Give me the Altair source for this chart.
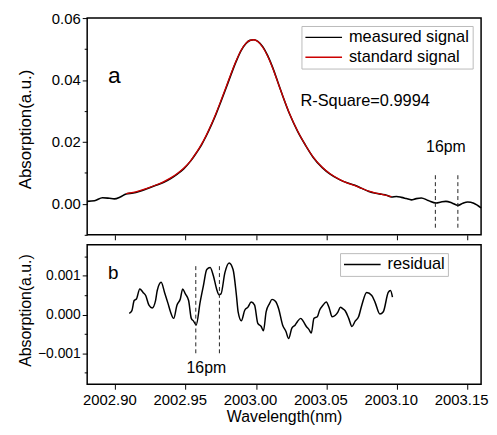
import altair as alt
import pandas as pd

# ---------------- data ----------------
meas_wl = [2002.8800, 2002.8852, 2002.8909, 2002.8958, 2002.8993, 2002.9035, 2002.9077,
           2002.9127, 2002.9169, 2002.9225, 2002.9289, 2002.9345, 2002.9394, 2002.9443,
           2002.9486, 2002.9535, 2002.9577, 2002.9612, 2002.9647, 2002.9683, 2002.9718,
           2002.9753, 2002.9788, 2002.9823, 2002.9859, 2002.9894, 2002.9929, 2002.9957,
           2002.9985, 2003.0013, 2003.0049, 2003.0084, 2003.0119, 2003.0154, 2003.0189,
           2003.0239, 2003.0295, 2003.0351, 2003.0407, 2003.0471, 2003.0527, 2003.0590,
           2003.0647, 2003.0703, 2003.0752, 2003.0802, 2003.0851, 2003.0893, 2003.0928,
           2003.0963, 2003.0999, 2003.1034, 2003.1069, 2003.1104, 2003.1139, 2003.1175,
           2003.1224, 2003.1280, 2003.1315, 2003.1350, 2003.1393, 2003.1435, 2003.1470,
           2003.1505, 2003.1548, 2003.1600]
meas_abs = [0.0008, 0.0010, 0.0020, 0.0018, 0.0016, 0.0022, 0.0032,
            0.0035, 0.0040, 0.0049, 0.0060, 0.0070, 0.0082, 0.0097,
            0.0113, 0.0138, 0.0165, 0.0190, 0.0220, 0.0255, 0.0292,
            0.0333, 0.0375, 0.0418, 0.0460, 0.0495, 0.0518, 0.0528,
            0.0530, 0.0525, 0.0507, 0.0478, 0.0440, 0.0395, 0.0350,
            0.0290, 0.0235, 0.0190, 0.0150, 0.0117, 0.0096, 0.0079,
            0.0068, 0.0060, 0.0050, 0.0040, 0.0034, 0.0031, 0.0028,
            0.0022, 0.0024, 0.0021, 0.0017, 0.0013, 0.0017, 0.0019,
            0.0011, 0.0003, 0.0006, 0.0008, 0.0003, -0.0005, 0.0002,
            0.0006, 0.0002, -0.0013]

std_wl = [2002.9077, 2002.9127, 2002.9169, 2002.9225, 2002.9289, 2002.9345, 2002.9394,
          2002.9443, 2002.9486, 2002.9535, 2002.9577, 2002.9612, 2002.9647, 2002.9683,
          2002.9718, 2002.9753, 2002.9788, 2002.9823, 2002.9859, 2002.9894, 2002.9929,
          2002.9957, 2002.9985, 2003.0013, 2003.0049, 2003.0084, 2003.0119, 2003.0154,
          2003.0189, 2003.0239, 2003.0295, 2003.0351, 2003.0407, 2003.0471, 2003.0527,
          2003.0590, 2003.0647, 2003.0703, 2003.0752, 2003.0802, 2003.0851, 2003.0893,
          2003.0928, 2003.0963]
std_abs = [0.0033, 0.0037, 0.0042, 0.0050, 0.0061, 0.0072, 0.0084,
           0.0099, 0.0115, 0.0139, 0.0166, 0.0192, 0.0222, 0.0257,
           0.0295, 0.0336, 0.0378, 0.0421, 0.0462, 0.0496, 0.0519,
           0.0528, 0.0530, 0.0524, 0.0505, 0.0476, 0.0438, 0.0394,
           0.0350, 0.0291, 0.0236, 0.0190, 0.0151, 0.0118, 0.0097,
           0.0080, 0.0068, 0.0059, 0.0050, 0.0041, 0.0035, 0.0031,
           0.0027, 0.0023]

res_wl = [2002.9099, 2002.9118, 2002.9134, 2002.9150, 2002.9174, 2002.9197, 2002.9216,
          2002.9239, 2002.9262, 2002.9286, 2002.9298, 2002.9326, 2002.9350, 2002.9375,
          2002.9392, 2002.9415, 2002.9438, 2002.9462, 2002.9479, 2002.9498, 2002.9521,
          2002.9540, 2002.9556, 2002.9575, 2002.9603, 2002.9626, 2002.9650, 2002.9674,
          2002.9697, 2002.9720, 2002.9737, 2002.9751, 2002.9779, 2002.9809, 2002.9837,
          2002.9861, 2002.9873, 2002.9896, 2002.9920, 2002.9943, 2002.9966, 2002.9990,
          2003.0013, 2003.0037, 2003.0053, 2003.0072, 2003.0096, 2003.0114, 2003.0138,
          2003.0161, 2003.0189, 2003.0213, 2003.0232, 2003.0255, 2003.0279, 2003.0295,
          2003.0318, 2003.0335, 2003.0358, 2003.0377, 2003.0393, 2003.0412, 2003.0436,
          2003.0452, 2003.0476, 2003.0499, 2003.0522, 2003.0541, 2003.0564, 2003.0583,
          2003.0600, 2003.0616, 2003.0635, 2003.0659, 2003.0682, 2003.0705, 2003.0729,
          2003.0752, 2003.0787, 2003.0823, 2003.0846, 2003.0881, 2003.0905, 2003.0940,
          2003.0956, 2003.0970]
res_abs = [0.00003, 0.00010, 0.00036, 0.00040, 0.00066, 0.00057, 0.00049,
           0.00024, 0.00017, 0.00036, 0.00062, 0.00083, 0.00057, 0.00028,
           0.00007, -0.00010, 0.00024, 0.00040, 0.00066, 0.00053, 0.00036,
           -0.00010, -0.00017, -0.00027, 0.00032, 0.00074, 0.00116, 0.00121,
           0.00100, 0.00066, 0.00051, 0.00053, 0.00108, 0.00133, 0.00116,
           0.00049, 0.00007, -0.00016, 0.00011, 0.00019, 0.00032, 0.00024,
           -0.00023, -0.00031, -0.00042, 0.00007, 0.00028, 0.00039, 0.00034,
           0.00015, -0.00027, -0.00044, -0.00062, -0.00035, -0.00027, -0.00018,
           -0.00010, -0.00017, -0.00031, -0.00039, -0.00048, -0.00010, -0.00006,
           0.00011, 0.00024, 0.00032, 0.00015, -0.00006, -0.00002, 0.00007,
           0.00019, 0.00015, 0.00009, -0.00010, -0.00031, -0.00017, -0.00006,
           0.00024, 0.00057, 0.00049, 0.00032, 0.00001, 0.00007, 0.00057,
           0.00062, 0.00045]

top_dash_wl = [2003.1275, 2003.1435]
top_dash_y = [-0.0077, 0.0102]
bot_dash_wl = [2002.9572, 2002.9740]
bot_dash_y = [-0.0010, 0.00126]

series_top = ["measured signal", "standard signal"]
colors_top = ["#000000", "#cc0000"]
series_bot = ["residual"]

x_ticks = [2002.900, 2002.925, 2002.950, 2002.975, 2003.000, 2003.025,
           2003.050, 2003.075, 2003.100, 2003.125, 2003.150]
y_top_major = [0.00, 0.02, 0.04, 0.06]
y_top_minor = [-0.01, 0.01, 0.03, 0.05]
y_bot_major = [-0.001, 0.0, 0.001]
y_bot_minor = [-0.0015, -0.0005, 0.0005, 0.0015]

FONT = "Liberation Sans"
W = 398

# ---------------- tables ----------------
meas_df = pd.DataFrame({"wl": meas_wl, "abs": meas_abs, "series": series_top[0]})
std_df = pd.DataFrame({"wl": std_wl, "abs": std_abs, "series": series_top[1]})
res_df = pd.DataFrame({"wl": res_wl, "abs": res_abs, "series": series_bot[0]})
top_dash = pd.DataFrame({"wl": top_dash_wl, "y1": top_dash_y[0], "y2": top_dash_y[1]})
bot_dash = pd.DataFrame({"wl": bot_dash_wl, "y1": bot_dash_y[0], "y2": bot_dash_y[1]})

x_scale = alt.Scale(domain=[2002.88, 2003.16], nice=False, zero=False)
y_top_scale = alt.Scale(domain=[-0.01, 0.06], nice=False, zero=False)
y_bot_scale = alt.Scale(domain=[-0.0018, 0.0018], nice=False, zero=False)

x_tick_size = {"condition": {"test": "round(datum.value*40) % 2 != 0", "value": 3}, "value": 5}

x_axis_top = alt.Axis(values=x_ticks, labels=False, title=None, domain=False, grid=False,
                      tickColor="black", tickWidth=1, tickSize=x_tick_size)
x_axis_bot = alt.Axis(values=x_ticks, title="Wavelength(nm)", domain=False, grid=False,
                      tickColor="black", tickWidth=1, tickSize=x_tick_size,
                      labelExpr="round(datum.value*40) % 2 == 0 ? format(datum.value, '.2f') : ''",
                      labelFontSize=15, labelPadding=3, labelOffset=-6, labelColor="black",
                      labelFont=FONT, titleFontSize=16, titlePadding=2, titleColor="black",
                      titleFont=FONT, titleFontWeight="normal", labelFlush=False, labelOverlap=False)
y_axis_top = alt.Axis(values=y_top_major, format=".2f", title="Absorption(a.u.)", orient="left",
                      domain=False, grid=False, tickColor="black", tickWidth=1, tickSize=5,
                      labelFontSize=15, labelPadding=2, labelColor="black", labelFont=FONT,
                      titleFontSize=17, titleColor="black", titleFont=FONT, titleFontWeight="normal",
                      titleAngle=270, titleAlign="center", titleBaseline="middle",
                      titleX=-62, titleY=112, labelOverlap=False, labelFlush=False)
y_axis_top_minor = alt.Axis(values=y_top_minor, labels=False, title=None, orient="left",
                            domain=False, grid=False, tickColor="black", tickWidth=1, tickSize=3)
y_axis_bot = alt.Axis(values=y_bot_major, format=".3f", title="Absorption(a.u.)", orient="left",
                      domain=False, grid=False, tickColor="black", tickWidth=1, tickSize=5,
                      labelFontSize=14, labelPadding=2, labelColor="black", labelFont=FONT,
                      titleFontSize=16, titleColor="black", titleFont=FONT, titleFontWeight="normal",
                      titleAngle=270, titleAlign="center", titleBaseline="middle",
                      titleX=-62, titleY=66, labelOverlap=False, labelFlush=False)
y_axis_bot_minor = alt.Axis(values=y_bot_minor, labels=False, title=None, orient="left",
                            domain=False, grid=False, tickColor="black", tickWidth=1, tickSize=3)

legend_common = dict(title=None, orient="none", symbolType="stroke", symbolSize=1369,
                     symbolStrokeWidth=1.5, labelFontSize=16.5, labelFont=FONT, labelColor="black",
                     strokeColor="#bbbbbb", fillColor="white", padding=3, rowPadding=3,
                     clipHeight=17, labelOffset=6)

color_top = alt.Color("series:N", scale=alt.Scale(domain=series_top, range=colors_top),
                      legend=alt.Legend(legendX=216.5, legendY=8, **legend_common))
color_bot = alt.Color("series:N", scale=alt.Scale(domain=series_bot, range=["#000000"]),
                      legend=alt.Legend(legendX=255.5, legendY=8.5, **legend_common))

# ---------------- top panel ----------------
meas_line = alt.Chart(meas_df).mark_line(strokeWidth=1.6, interpolate="monotone").encode(
    x=alt.X("wl:Q", scale=x_scale, axis=x_axis_top),
    y=alt.Y("abs:Q", scale=y_top_scale, axis=y_axis_top),
    color=color_top,
)
top_minor = alt.Chart(meas_df).mark_line(strokeOpacity=0).encode(
    x=alt.X("wl:Q", scale=x_scale),
    y=alt.Y("abs:Q", scale=y_top_scale, axis=y_axis_top_minor),
)
std_line = alt.Chart(std_df).mark_line(strokeWidth=1.3, interpolate="monotone").encode(
    x=alt.X("wl:Q", scale=x_scale),
    y=alt.Y("abs:Q", scale=y_top_scale, axis=None),
    color=color_top,
)
top_rules = alt.Chart(top_dash).mark_rule(strokeDash=[4, 3], color="#222222", strokeWidth=1).encode(
    x="wl:Q", y=alt.Y("y1:Q", axis=None), y2="y2:Q")

top_text = pd.DataFrame({
    "wl": [2002.8993, 2003.0316, 2003.1350],
    "y": [0.0413, 0.0333, 0.0182],
    "t": ["a", "R-Square=0.9994", "16pm"],
})
txt_a = alt.Chart(top_text.iloc[[0]]).mark_text(fontSize=23, font=FONT, color="black",
                                               align="center", baseline="middle").encode(
    x="wl:Q", y=alt.Y("y:Q", axis=None), text="t:N")
txt_r = alt.Chart(top_text.iloc[[1]]).mark_text(fontSize=16.5, font=FONT, color="black",
                                               align="left", baseline="middle").encode(
    x="wl:Q", y=alt.Y("y:Q", axis=None), text="t:N")
txt_p = alt.Chart(top_text.iloc[[2]]).mark_text(fontSize=16, font=FONT, color="black",
                                               align="center", baseline="middle").encode(
    x="wl:Q", y=alt.Y("y:Q", axis=None), text="t:N")

top = alt.layer(meas_line, top_minor, std_line, top_rules, txt_a, txt_r, txt_p).resolve_axis(
    y="independent").properties(width=W, height=219)

# ---------------- bottom panel ----------------
res_line = alt.Chart(res_df).mark_line(strokeWidth=1.5, interpolate="monotone").encode(
    x=alt.X("wl:Q", scale=x_scale, axis=x_axis_bot),
    y=alt.Y("abs:Q", scale=y_bot_scale, axis=y_axis_bot),
    color=color_bot,
)
bot_minor = alt.Chart(res_df).mark_line(strokeOpacity=0).encode(
    x=alt.X("wl:Q", scale=x_scale),
    y=alt.Y("abs:Q", scale=y_bot_scale, axis=y_axis_bot_minor),
)
bot_rules = alt.Chart(bot_dash).mark_rule(strokeDash=[4, 3], color="#222222", strokeWidth=1).encode(
    x="wl:Q", y=alt.Y("y1:Q", axis=None), y2="y2:Q")
bot_text = pd.DataFrame({"wl": [2002.8986, 2002.9647], "y": [0.00107, -0.00137], "t": ["b", "16pm"]})
txt_b = alt.Chart(bot_text.iloc[[0]]).mark_text(fontSize=19, font=FONT, color="black",
                                               align="center", baseline="middle").encode(
    x="wl:Q", y=alt.Y("y:Q", axis=None), text="t:N")
txt_p2 = alt.Chart(bot_text.iloc[[1]]).mark_text(fontSize=16, font=FONT, color="black",
                                                align="center", baseline="middle").encode(
    x="wl:Q", y=alt.Y("y:Q", axis=None), text="t:N")

bottom = alt.layer(res_line, bot_minor, bot_rules, txt_b, txt_p2).resolve_axis(
    y="independent").properties(width=W, height=141)

chart = alt.vconcat(top, bottom, spacing=10, bounds="flush").resolve_scale(
    color="independent").resolve_legend(color="independent").properties(
    padding={"left": 8, "top": 0, "right": 0, "bottom": 0}
).configure(font=FONT, background="white").configure_view(stroke="black", strokeWidth=1.5)

chart.save("out.html", embed_options={"renderer": "svg", "actions": False})
